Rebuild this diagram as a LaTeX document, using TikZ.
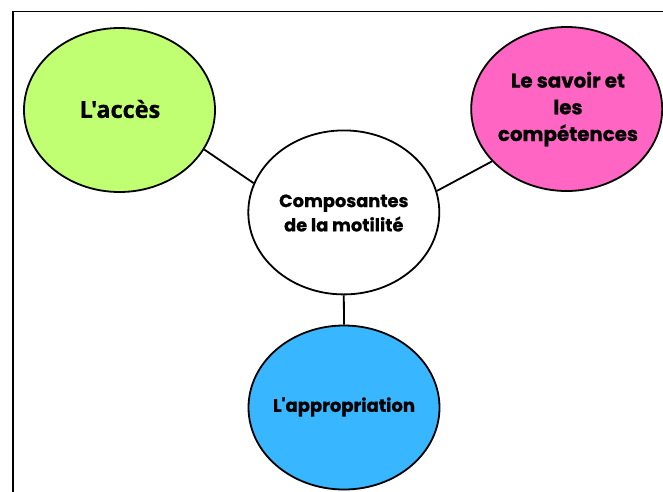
\documentclass[tikz,border=0pt]{standalone}
\usepackage{fontspec}
\usetikzlibrary{shapes.geometric}
\newfontfamily\opensans{Open Sans}[BoldFeatures={FakeBold=0.8}]
\newfontfamily\pop{Poppins}[BoldFeatures={FakeBold=0.8}]
\definecolor{lime}{HTML}{C1FF72}
\definecolor{pinkc}{HTML}{FF66C4}
\definecolor{bluec}{HTML}{38B6FF}
\tikzset{
  bubble/.style={ellipse, draw=black, line width=1.8pt, minimum width=191pt, minimum height=164pt, inner sep=0pt},
  label text/.style={align=center, text=black, inner sep=0pt},
  link/.style={draw=black, line width=1.8pt},
  frameline/.style={draw=black, line width=1.8pt}
}
\begin{document}
\begin{tikzpicture}[x=1pt,y=-1pt]
\useasboundingbox (0,0) rectangle (663,491);
\coordinate (ftl) at (13,11.5);
\coordinate (fbl) at (13,492);
\coordinate (ftr) at (664,11.5);
\draw[frameline] (fbl) -- (ftl) -- (ftr);
\node[bubble, fill=lime] (acces) at (119.5,110) {};
\node[bubble, fill=pinkc] (savoir) at (566.7,109) {};
\node[bubble, fill=white] (comp) at (343.8,212.4) {};
\node[bubble, fill=bluec] (appro) at (344,407.5) {};
\node[label text, font=\opensans\bfseries\fontsize{23.5}{26}\selectfont] (accesT) at (120,109) {L'accès};
\node[label text, font=\pop\bfseries\fontsize{19.8}{26.7}\selectfont] (savoirT) at (568,109) {Le savoir et\\les\\compétences};
\node[label text, font=\pop\bfseries\fontsize{17.8}{24.3}\selectfont] (compT) at (343.8,213) {Composantes\\de la motilité};
\node[label text, font=\pop\bfseries\fontsize{18}{20}\selectfont] (approT) at (344,407) {L'appropriation};
\draw[link] (acces.-25.6) -- (comp.162.6);
\draw[link] (savoir.215.5) -- (comp.13.9);
\draw[link] (comp.south) -- (appro.north);
\end{tikzpicture}
\end{document}
